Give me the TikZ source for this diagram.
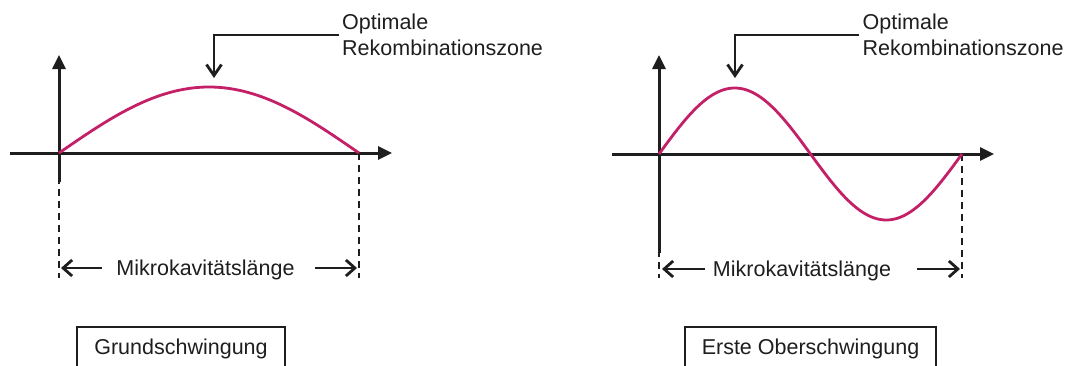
\documentclass[tikz,border=0pt]{standalone}
\usepackage{fontspec}
\setmainfont{Liberation Sans}
\usetikzlibrary{arrows.meta}
\definecolor{wavecol}{RGB}{196,32,104}
\definecolor{ink}{RGB}{30,30,30}
\begin{document}
\begin{tikzpicture}[x=1pt,y=-1pt,
  lbl/.style={font=\fontsize{21.5}{26}\selectfont, text=ink, inner sep=0pt},
  axisline/.style={line width=3pt, draw=ink, -{Triangle[length=14pt,width=13pt]}},
  dashline/.style={line width=2.8pt, draw=ink, dash pattern=on 7pt off 5pt},
  wavestyle/.style={line width=2.8pt, draw=wavecol},
  dimarrow/.style={line width=2.8pt, draw=ink, -{Straight Barb[length=9pt,width=16pt,line width=2.8pt]}},
  callout/.style={line width=2.8pt, draw=ink, -{Straight Barb[length=11pt,width=15pt,line width=2.8pt]}},
  boxed/.style={lbl, draw=ink, line width=1.6pt, minimum height=43pt}
]
\useasboundingbox (0,0) rectangle (1068,365);
\clip (0,0) rectangle (1068,365);

% ---------- left panel ----------
\coordinate (L0) at (59,153);
\coordinate (Lxs) at (10,153);
\coordinate (Lxe) at (392,153);
\coordinate (Lyt) at (59,55);
\coordinate (Lys) at (59,182);
\coordinate (Lyb) at (59,278);
\coordinate (L1) at (359,153);
\coordinate (L1b) at (359,278);
\draw[dashline] (L0) -- (Lyb);
\draw[dashline] (L1) -- (L1b);
\draw[axisline] (Lxs) -- (Lxe);
\draw[axisline] (Lys) -- (Lyt);
\draw[wavestyle] plot[domain=0:300, samples=90, smooth] ({59+\x},{153-66*sin(0.6*\x)});

\node[lbl, anchor=base] (Ldim) at (205.5,275) {Mikrokavitätslänge};
\coordinate (Lda) at (102,268);
\coordinate (Ldl) at (61,268);
\coordinate (Ldb) at (315,268);
\coordinate (Ldr) at (357,268);
\draw[dimarrow] (Lda) -- (Ldl);
\draw[dimarrow] (Ldb) -- (Ldr);

\node[lbl, anchor=base west, align=left] (Lopt) at (342,55) {Optimale\\Rekombinationszone};
\coordinate (Lc1) at (339,35);
\coordinate (Lc2) at (214,78);
\draw[callout] (Lc1) -| (Lc2);

\node[boxed, minimum width=208pt] (Lbox) at (181,348.5) {Grundschwingung};

% ---------- right panel ----------
\coordinate (R0) at (659,154);
\coordinate (Rxs) at (612,154);
\coordinate (Rxe) at (994,154);
\coordinate (Ryt) at (659,55);
\coordinate (Rys) at (659,253);
\coordinate (Ryb) at (659,278);
\coordinate (R1) at (962,154);
\coordinate (R1b) at (962,278);
\draw[dashline] (R0) -- (Ryb);
\draw[dashline] (R1) -- (R1b);
\draw[axisline] (Rxs) -- (Rxe);
\draw[axisline] (Rys) -- (Ryt);
\draw[wavestyle] plot[domain=0:303, samples=150, smooth] ({659+\x},{154-66*sin(1.188119*\x)});

\node[lbl, anchor=base] (Rdim) at (802,276) {Mikrokavitätslänge};
\coordinate (Rda) at (705,269);
\coordinate (Rdl) at (662,269);
\coordinate (Rdb) at (917,269);
\coordinate (Rdr) at (960,269);
\draw[dimarrow] (Rda) -- (Rdl);
\draw[dimarrow] (Rdb) -- (Rdr);

\node[lbl, anchor=base west, align=left] (Ropt) at (862.5,55) {Optimale\\Rekombinationszone};
\coordinate (Rc1) at (859,35);
\coordinate (Rc2) at (735,78);
\draw[callout] (Rc1) -| (Rc2);

\node[boxed, minimum width=251pt] (Rbox) at (810.5,348.5) {Erste Oberschwingung};
\end{tikzpicture}
\end{document}
